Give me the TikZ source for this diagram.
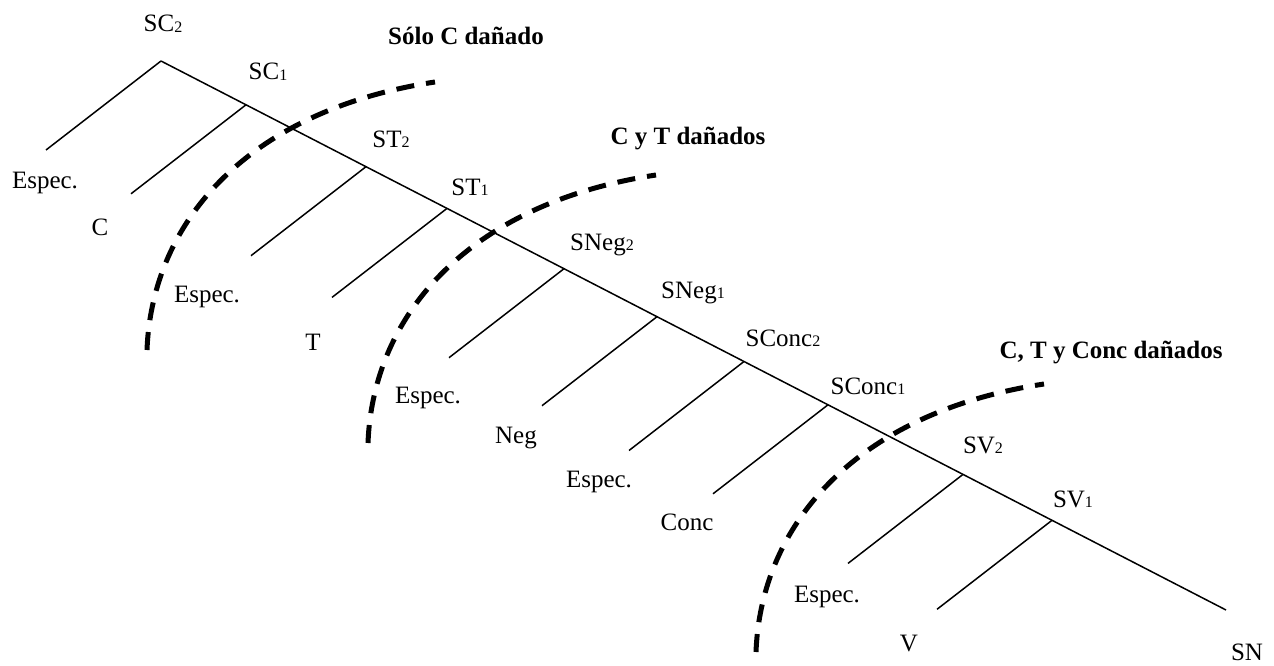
\documentclass[tikz,border=0pt]{standalone}
\usepackage{fontspec}
\setmainfont{Liberation Serif}
\newcommand{\subn}[1]{\raisebox{-0.5pt}{\fontsize{16}{16}\selectfont #1}}
\tikzset{
  lab/.style={font=\fontsize{25}{30}\selectfont, inner sep=0pt, anchor=base},
  ttl/.style={font=\fontsize{25}{30}\selectfont\bfseries, inner sep=0pt, anchor=base},
  tree/.style={line width=1.5pt},
  damage/.style={line width=5pt, dash pattern=on 18pt off 12pt}
}
\begin{document}
\begin{tikzpicture}[x=1pt,y=-1pt]
\useasboundingbox (0,0) rectangle (1274,666);
% spine vertices
\coordinate (vSCa) at (161,61);
\coordinate (vSCb) at (246,104.8);
\coordinate (vSTa) at (366,166.7);
\coordinate (vSTb) at (447,208.4);
\coordinate (vNega) at (564,268.7);
\coordinate (vNegb) at (657,316.7);
\coordinate (vConca) at (744,361.5);
\coordinate (vConcb) at (828,404.8);
\coordinate (vSVa) at (963,474.4);
\coordinate (vSVb) at (1052,520.3);
\coordinate (eSN) at (1226,610);
% branch ends
\foreach \n in {SCa,SCb,STa,STb,Nega,Negb,Conca,Concb,SVa,SVb}{
  \coordinate (b\n) at ([shift={(-115,89)}]v\n);
}
\draw[tree] (vSCa) -- (vSCb) -- (vSTa) -- (vSTb) -- (vNega) -- (vNegb) -- (vConca) -- (vConcb) -- (vSVa) -- (vSVb) -- (eSN);
\foreach \n in {SCa,SCb,STa,STb,Nega,Negb,Conca,Concb,SVa,SVb}{
  \draw[tree] (v\n) -- (b\n);
}
% interior labels
\node[lab] (lSCa) at (163,32) {SC\subn{2}};
\node[lab] (lSCb) at (268,80) {SC\subn{1}};
\node[lab] (lSTa) at (391,147) {ST\subn{2}};
\node[lab] (lSTb) at (470,195) {ST\subn{1}};
\node[lab] (lNega) at (602,250) {SNeg\subn{2}};
\node[lab] (lNegb) at (693,298) {SNeg\subn{1}};
\node[lab] (lConca) at (783,346) {SConc\subn{2}};
\node[lab] (lConcb) at (868,394) {SConc\subn{1}};
\node[lab] (lSVa) at (983,453) {SV\subn{2}};
\node[lab] (lSVb) at (1073,507) {SV\subn{1}};
% leaf labels
\node[lab] (lEsa) at (45,188) {Espec.};
\node[lab] (lC) at (100,235) {C};
\node[lab] (lEsb) at (207,302) {Espec.};
\node[lab] (lT) at (313,350) {T};
\node[lab] (lEsc) at (428,403) {Espec.};
\node[lab] (lNeg) at (516,443) {Neg};
\node[lab] (lEsd) at (599,487) {Espec.};
\node[lab] (lConc) at (687,530) {Conc};
\node[lab] (lEse) at (827,602) {Espec.};
\node[lab] (lV) at (909,651) {V};
\node[lab] (lSN) at (1247,660) {SN};
% titles
\node[ttl] (t1) at (466,45) {Sólo C dañado};
\node[ttl] (t2) at (688,145) {C y T dañados};
\node[ttl] (t3) at (1111,358) {C, T y Conc dañados};
% damage curves
\coordinate (d1s) at (147,350);
\coordinate (d1e) at (435,82);
\draw[damage] (d1s) .. controls (152,220) and (250,110) .. (d1e);
\coordinate (d2s) at (368,443);
\coordinate (d2e) at (656,175);
\draw[damage] (d2s) .. controls (373,313) and (471,203) .. (d2e);
\coordinate (d3s) at (756,652);
\coordinate (d3e) at (1044,384);
\draw[damage] (d3s) .. controls (761,522) and (859,412) .. (d3e);
\end{tikzpicture}
\end{document}
